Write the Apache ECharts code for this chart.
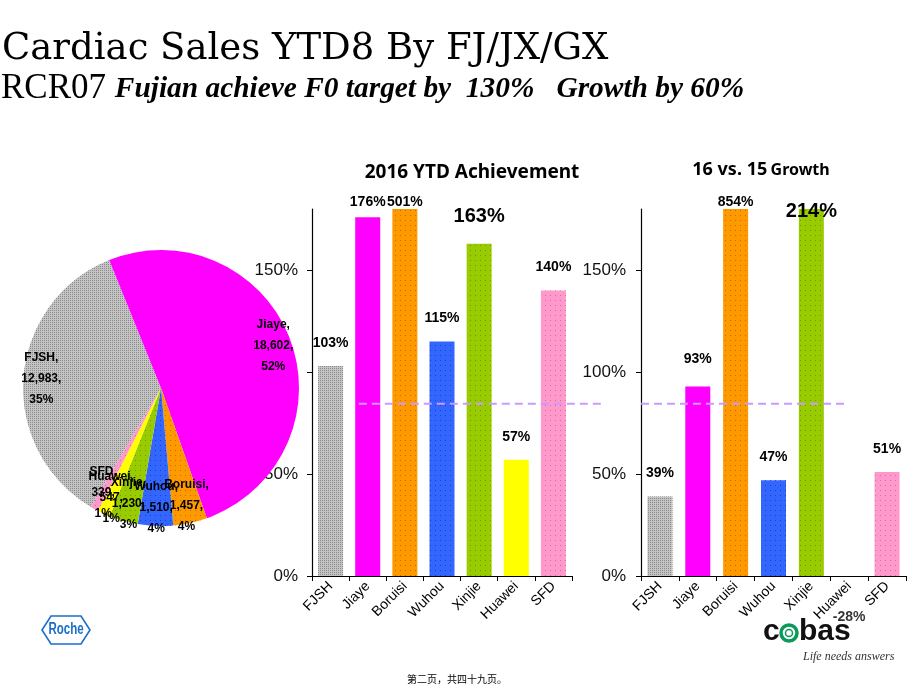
<!DOCTYPE html>
<html><head><meta charset="utf-8">
<script src="https://cdn.jsdelivr.net/npm/echarts@6/dist/echarts.min.js"></script>
<style>html,body{margin:0;padding:0;background:#fff}#c{width:920px;height:690px}</style>
</head><body><div id="c"></div>
<script>
// ---- data ----
const categories = ['FJSH', 'Jiaye', 'Boruisi', 'Wuhou', 'Xinjie', 'Huawei', 'SFD'];
const achievement = [103, 176, 501, 115, 163, 57, 140];      // 2016 YTD achievement, %
const growth = [39, 93, 854, 47, 214, -28, 51];              // 16 vs 15 growth, %
const pieValues = [12983, 18602, 1457, 1510, 1230, 547, 339];
const pieShares = [35, 52, 4, 4, 3, 1, 1];                   // % as printed
const referenceLevel = 84.5;                                 // dashed line, %
const yTickValues = [0, 50, 100, 150];

// ---- styles ----
const colors = {
  FJSH: '#C4C4C4', Jiaye: '#FF00FF', Boruisi: '#FF9900', Wuhou: '#3366FF',
  Xinjie: '#99CC00', Huawei: '#FFFF00', SFD: '#FF99CC'
};
function dots(color, gap) {
  return { symbol: 'rect', symbolSize: 1, color: color, dashArrayX: [1, gap], dashArrayY: [1, gap], rotation: 0 };
}
const decals = {
  FJSH: dots('#8a8a8a', 1), Boruisi: dots('#c86a00', 4), Wuhou: dots('#1a3fbf', 4),
  Xinjie: dots('#6f9900', 4), SFD: dots('#cc6f99', 4)
};
const achLabel = { Jiaye: { distance: 8 }, Boruisi: { distance: 0 }, Xinjie: { fontSize: 20, distance: 17 } };
const growthLabel = { Jiaye: { distance: 20 }, Boruisi: { distance: 0 }, Xinjie: { fontSize: 20, distance: 0, offset: [0, 12] } };
// dashed reference line extents, in category units (layout only)
const refExtent1 = [0.76, 7.38];
const refExtent2 = [-0.5, 4.96];

function itemStyleFor(name) {
  const s = { color: colors[name] };
  if (decals[name]) s.decal = decals[name];
  return s;
}
function barData(values, labelMap) {
  return values.map((v, i) => {
    const name = categories[i];
    const d = { value: v, itemStyle: itemStyleFor(name) };
    if (labelMap[name]) d.label = labelMap[name];
    if (v < 0) d.label = { show: false };
    return d;
  });
}
const fontSans = 'Liberation Sans, Arial, sans-serif';
function catAxis(grid) {
  return {
    type: 'category', gridIndex: grid, data: categories,
    axisLine: { onZero: false, lineStyle: { color: '#000', width: 1.2 } },
    axisTick: { show: true, length: 5, lineStyle: { color: '#000' } },
    axisLabel: { interval: 0, rotate: 45, fontSize: 14, color: '#000', fontFamily: fontSans, margin: 8 }
  };
}
function valAxis(grid, margin) {
  return {
    type: 'value', gridIndex: grid, min: yTickValues[0], max: 180, interval: yTickValues[1] - yTickValues[0],
    splitLine: { show: false },
    axisLine: { show: true, onZero: false, lineStyle: { color: '#000', width: 1.2 } },
    axisTick: { show: true, length: 5, lineStyle: { color: '#000' }, customValues: yTickValues },
    axisLabel: { formatter: '{value}%', fontSize: 17, color: '#111', fontFamily: fontSans, margin: margin,
      customValues: yTickValues }
  };
}
function hiddenX(grid) {
  return { type: 'value', gridIndex: grid, min: -0.5, max: categories.length - 0.5, show: false };
}
const barLabel = {
  show: true, position: 'top', distance: 16, formatter: '{c}%',
  fontSize: 14, fontWeight: 'bold', color: '#000', fontFamily: fontSans
};
const refLineStyle = { stroke: '#CC99FF', lineWidth: 2, lineDash: [8, 5] };

const pieData = categories.map((name, i) => ({ name: name, value: pieValues[i], itemStyle: itemStyleFor(name) }));
const pieLabelData = categories.map((name, i) => ({ name: name, value: pieValues[i], share: pieShares[i] }));

const negGrowth = [];
growth.forEach((v, i) => { if (v < 0) negGrowth.push([i, v]); });

const chart = echarts.init(document.getElementById('c'), null, { renderer: 'canvas' });
const staticGraphics = [
  { type: 'text', x: 2, y: 49, z: 20, style: { text: 'Cardiac Sales YTD8 By FJ/JX/GX', font: '37px "DejaVu Serif"', fill: '#000', verticalAlign: 'middle' } },
  { type: 'text', x: 1, y: 89, z: 20, style: {
    text: '{a|RCR07 }{b|Fujian achieve F0 target by  130%   Growth by 60%}', verticalAlign: 'middle', fill: '#000',
    rich: { a: { font: '35px "Liberation Serif"', fill: '#000' }, b: { font: 'italic bold 29.4px "Liberation Serif"', fill: '#000' } } } },
  { type: 'text', x: 472, y: 173, z: 20, style: { text: '2016 YTD Achievement', font: 'bold 19px "Noto Sans"', fill: '#000', align: 'center', verticalAlign: 'middle' } },
  { type: 'text', x: 761, y: 170, z: 20, style: { text: '{a|16 vs. 15} {b|Growth}', align: 'center', verticalAlign: 'middle',
    rich: { a: { font: 'bold 18px "Noto Sans"', fill: '#000' }, b: { font: 'bold 16px "Noto Sans"', fill: '#000' } } } },
  // Roche logo
  { type: 'polygon', z: 20, shape: { points: [[42, 630], [51, 616], [81, 616], [90, 630], [81, 644], [51, 644]] },
    style: { fill: 'none', stroke: '#1a6fc9', lineWidth: 1.6 } },
  { type: 'text', x: 66, y: 630, z: 20, scaleX: 0.72, style: { text: 'Roche', font: 'bold 16px "Liberation Sans"', fill: '#1a6fc9', align: 'center', verticalAlign: 'middle' } },
  // cobas logo
  { type: 'text', x: 763, y: 632, z: 8, style: { text: 'c', font: 'bold 30px "Liberation Sans"', fill: '#111', verticalAlign: 'middle' } },
  { type: 'circle', z: 8, shape: { cx: 789, cy: 633, r: 8 }, style: { fill: 'none', stroke: '#0a9a5a', lineWidth: 3.5 } },
  { type: 'circle', z: 8, shape: { cx: 789, cy: 633, r: 3.5 }, style: { fill: 'none', stroke: '#0a9a5a', lineWidth: 1.5 } },
  { type: 'text', x: 799, y: 632, z: 8, style: { text: 'bas', font: 'bold 30px "Liberation Sans"', fill: '#111', verticalAlign: 'middle' } },
  { type: 'text', x: 803, y: 657, z: 8, style: { text: 'Life needs answers', font: 'italic 12px "Liberation Serif"', fill: '#333', verticalAlign: 'middle' } },
  // footer
  { type: 'text', x: 407, y: 679, z: 8, style: { text: '第二页，共四十九页。', font: '10px "Noto Sans CJK SC"', fill: '#000', verticalAlign: 'middle' } }
];

chart.setOption({
  animation: false,
  backgroundColor: '#fff',
  grid: [
    { left: 312, right: 348, top: 209, bottom: 114 },
    { left: 641, right: 14, top: 209, bottom: 114 }
  ],
  xAxis: [catAxis(0), catAxis(1), hiddenX(0), hiddenX(1)],
  yAxis: [valAxis(0, 14), valAxis(1, 15)],
  series: [
    { type: 'bar', xAxisIndex: 0, yAxisIndex: 0, barWidth: 25, clip: true, data: barData(achievement, achLabel), label: barLabel },
    { type: 'bar', xAxisIndex: 1, yAxisIndex: 1, barWidth: 25, clip: true, data: barData(growth, growthLabel), label: barLabel },
    { type: 'scatter', xAxisIndex: 1, yAxisIndex: 1, clip: false, symbolSize: 0, z: 10, data: negGrowth,
      label: { show: true, position: 'inside', offset: [0, -16], formatter: p => p.value[1] + '%',
        fontSize: 14, fontWeight: 'bold', color: '#000', fontFamily: fontSans } },
    { type: 'pie', center: [161, 388], radius: 138, startAngle: 239.5, clockwise: true, z: 5,
      label: { show: false }, labelLine: { show: false }, silent: true, data: pieData },
    { type: 'pie', center: [161, 388], radius: [96, 138], startAngle: 239.5, clockwise: true, z: 6, silent: true,
      avoidLabelOverlap: false, labelLayout: { hideOverlap: false },
      itemStyle: { color: 'rgba(0,0,0,0)' }, labelLine: { show: false },
      label: { show: true, position: 'inside', fontSize: 12, fontWeight: 'bold', color: '#000', lineHeight: 21,
        fontFamily: fontSans,
        formatter: p => p.name + ',\n' + p.value.toLocaleString('en-US') + ',\n' + p.data.share + '%' },
      data: pieLabelData }
  ],
  graphic: staticGraphics
});

// dashed reference lines, positioned through the chart's own axes
function refLine(xAxisIndex, yAxisIndex, extent) {
  const y = chart.convertToPixel({ yAxisIndex: yAxisIndex }, referenceLevel);
  const x1 = chart.convertToPixel({ xAxisIndex: xAxisIndex }, extent[0]);
  const x2 = chart.convertToPixel({ xAxisIndex: xAxisIndex }, extent[1]);
  return { type: 'line', z: 4, shape: { x1: x1, y1: y, x2: x2, y2: y }, style: refLineStyle };
}
chart.setOption({ graphic: staticGraphics.concat([refLine(2, 0, refExtent1), refLine(3, 1, refExtent2)]) });
</script>
</body></html>
